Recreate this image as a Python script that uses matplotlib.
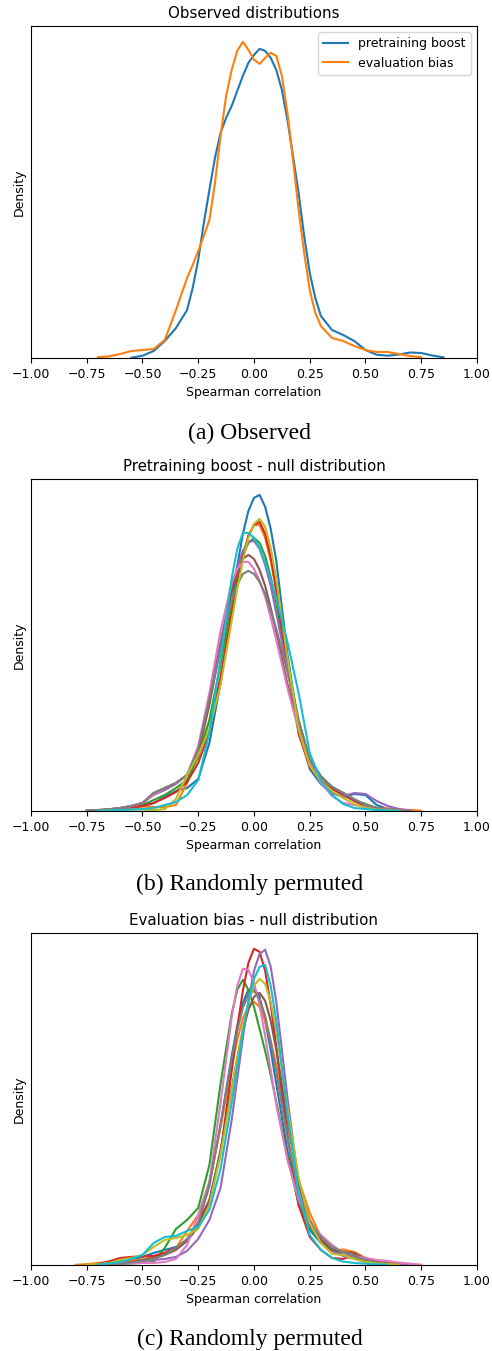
import numpy as np
import matplotlib
matplotlib.use("Agg")
from matplotlib import pyplot as plt

nan = np.nan

# KDE curves of the observed Spearman correlations
obs_x = [-0.75, -0.7, -0.65, -0.6, -0.55, -0.5, -0.45, -0.4, -0.35,
         -0.3, -0.275, -0.25, -0.225, -0.2, -0.175, -0.15, -0.125, -0.1, -0.075, -0.05, -0.025,
         0.0, 0.025, 0.05, 0.075, 0.1, 0.125, 0.15, 0.175, 0.2, 0.225, 0.25, 0.275, 0.3,
         0.35, 0.4, 0.45, 0.5, 0.55, 0.6, 0.65, 0.7, 0.75, 0.8, 0.85, 0.9]
pretraining_boost = [nan, nan, nan, nan, 0.003, 0.023, 0.07, 0.17, 0.30,
                     0.48, 0.70, 0.98, 1.35, 1.68, 2.00, 2.25, 2.40, 2.52, 2.67, 2.82, 2.95,
                     3.03, 3.09, 3.07, 3.00, 2.88, 2.68, 2.38, 2.02, 1.65, 1.22, 0.85, 0.60, 0.42,
                     0.28, 0.23, 0.17, 0.08, 0.033, 0.023, 0.035, 0.055, 0.05, 0.025, 0.006, nan]
evaluation_bias = [nan, 0.007, 0.017, 0.04, 0.07, 0.08, 0.09, 0.18, 0.48,
                   0.80, 0.93, 1.07, 1.22, 1.38, 1.75, 2.22, 2.62, 2.88, 3.07, 3.16, 3.08,
                   2.98, 2.94, 3.00, 3.05, 3.02, 2.82, 2.45, 1.98, 1.48, 1.05, 0.68, 0.45, 0.32,
                   0.20, 0.17, 0.12, 0.08, 0.06, 0.06, 0.04, 0.02, 0.008, nan, nan, nan]

# KDE curves for 10 random permutations of each score
null_x = [-0.8, -0.75, -0.7, -0.65, -0.6, -0.55, -0.5, -0.45, -0.4, -0.35, -0.3, -0.25, -0.2,
          -0.15, -0.1, -0.075, -0.05, -0.025, 0.0, 0.025, 0.05, 0.075, 0.1, 0.15, 0.2,
          0.25, 0.3, 0.35, 0.4, 0.45, 0.5, 0.55, 0.6, 0.65, 0.7, 0.75, 0.8]

boost_null = [
    [nan, nan, 0.003, 0.01, 0.02, 0.03, 0.05, 0.08, 0.14, 0.20, 0.23, 0.32, 0.68, 1.28, 2.05, 2.45, 2.77, 3.00, 3.13,
     3.16, 3.04, 2.82, 2.50, 1.57, 0.83, 0.42, 0.27, 0.18, 0.14, 0.17, 0.16, 0.06, 0.02, 0.007, 0.002, nan, nan],
    [nan, 0.003, 0.008, 0.015, 0.025, 0.035, 0.045, 0.04, 0.04, 0.06, 0.28, 0.60, 0.90, 1.32, 1.98, 2.29, 2.55, 2.75,
     2.86, 2.86, 2.73, 2.50, 2.20, 1.48, 0.84, 0.45, 0.33, 0.24, 0.18, 0.10, 0.05, 0.03, 0.025, 0.015, 0.01, 0.003, nan],
    [nan, 0.002, 0.006, 0.015, 0.025, 0.04, 0.06, 0.11, 0.16, 0.23, 0.31, 0.54, 0.91, 1.47, 2.08, 2.34, 2.55, 2.68,
     2.73, 2.68, 2.55, 2.34, 2.08, 1.47, 0.91, 0.52, 0.35, 0.24, 0.17, 0.11, 0.07, 0.03, 0.015, 0.007, 0.003, nan, nan],
    [nan, nan, 0.005, 0.012, 0.02, 0.035, 0.05, 0.08, 0.13, 0.19, 0.29, 0.48, 0.79, 1.34, 1.97, 2.28, 2.54, 2.75,
     2.86, 2.89, 2.77, 2.54, 2.21, 1.44, 0.77, 0.44, 0.30, 0.22, 0.16, 0.10, 0.05, 0.03, 0.015, 0.008, 0.003, nan, nan],
    [nan, 0.002, 0.006, 0.015, 0.03, 0.05, 0.08, 0.16, 0.21, 0.27, 0.36, 0.60, 1.15, 1.69, 2.23, 2.44, 2.60, 2.69,
     2.70, 2.62, 2.46, 2.25, 1.98, 1.41, 0.88, 0.48, 0.28, 0.18, 0.15, 0.18, 0.17, 0.10, 0.05, 0.02, 0.006, nan, nan],
    [nan, 0.003, 0.01, 0.018, 0.03, 0.05, 0.08, 0.18, 0.23, 0.28, 0.36, 0.58, 1.06, 1.64, 2.19, 2.39, 2.52, 2.56,
     2.52, 2.41, 2.25, 2.03, 1.79, 1.27, 0.82, 0.50, 0.34, 0.24, 0.18, 0.11, 0.06, 0.03, 0.015, 0.007, 0.003, nan, nan],
    [nan, 0.002, 0.006, 0.015, 0.03, 0.05, 0.08, 0.16, 0.23, 0.28, 0.36, 0.65, 1.18, 1.80, 2.28, 2.42, 2.49, 2.49,
     2.42, 2.30, 2.14, 1.93, 1.71, 1.23, 0.81, 0.48, 0.28, 0.15, 0.08, 0.06, 0.04, 0.025, 0.015, 0.007, 0.003, nan, nan],
    [nan, 0.003, 0.01, 0.018, 0.03, 0.05, 0.08, 0.18, 0.23, 0.28, 0.36, 0.62, 1.12, 1.63, 2.10, 2.26, 2.37, 2.40,
     2.37, 2.29, 2.17, 2.00, 1.82, 1.39, 0.90, 0.52, 0.34, 0.24, 0.18, 0.12, 0.06, 0.03, 0.015, 0.007, 0.003, nan, nan],
    [nan, nan, 0.002, 0.005, 0.01, 0.015, 0.015, 0.01, 0.02, 0.12, 0.36, 0.56, 0.82, 1.26, 1.90, 2.22, 2.50, 2.73,
     2.87, 2.92, 2.84, 2.63, 2.32, 1.53, 0.82, 0.45, 0.30, 0.20, 0.13, 0.07, 0.03, 0.015, 0.008, 0.003, nan, nan, nan],
    [nan, nan, 0.002, 0.005, 0.01, 0.015, 0.02, 0.03, 0.06, 0.09, 0.16, 0.31, 0.78, 1.52, 2.33, 2.62, 2.78, 2.78,
     2.73, 2.63, 2.49, 2.32, 2.13, 1.69, 1.18, 0.58, 0.30, 0.16, 0.07, 0.03, 0.02, 0.01, 0.005, 0.002, nan, nan, nan],
]

bias_null = [
    [nan, nan, 0.005, 0.015, 0.03, 0.05, 0.08, 0.12, 0.15, 0.18, 0.25, 0.42, 0.79, 1.40, 2.09, 2.39, 2.62, 2.75,
     2.76, 2.68, 2.44, 2.15, 1.81, 1.14, 0.60, 0.35, 0.22, 0.14, 0.11, 0.08, 0.04, 0.02, 0.01, 0.004, nan, nan, nan],
    [0.001, 0.008, 0.02, 0.03, 0.04, 0.047, 0.053, 0.086, 0.12, 0.17, 0.34, 0.50, 0.83, 1.37, 1.98, 2.25, 2.46, 2.59,
     2.63, 2.58, 2.44, 2.24, 2.00, 1.39, 0.85, 0.52, 0.28, 0.14, 0.155, 0.13, 0.07, 0.04, 0.025, 0.015, 0.005, nan, nan],
    [nan, nan, nan, 0.003, 0.008, 0.015, 0.02, 0.03, 0.17, 0.36, 0.45, 0.57, 1.00, 1.81, 2.51, 2.75, 2.85, 2.75,
     2.58, 2.36, 2.14, 1.90, 1.63, 1.08, 0.62, 0.38, 0.24, 0.16, 0.12, 0.08, 0.05, 0.025, 0.01, 0.004, nan, nan, nan],
    [nan, nan, 0.01, 0.035, 0.07, 0.08, 0.086, 0.09, 0.12, 0.17, 0.24, 0.42, 0.65, 1.12, 1.94, 2.37, 2.74, 3.02,
     3.16, 3.13, 2.94, 2.60, 2.18, 1.29, 0.60, 0.28, 0.15, 0.07, 0.06, 0.10, 0.04, 0.02, 0.01, 0.004, nan, nan, nan],
    [nan, nan, nan, 0.004, 0.012, 0.025, 0.04, 0.05, 0.06, 0.08, 0.14, 0.26, 0.45, 0.77, 1.45, 1.86, 2.27, 2.64,
     2.94, 3.11, 3.15, 2.98, 2.63, 1.67, 0.81, 0.40, 0.25, 0.14, 0.09, 0.06, 0.03, 0.02, 0.01, 0.005, 0.002, nan, nan],
    [nan, nan, nan, 0.005, 0.015, 0.03, 0.05, 0.07, 0.10, 0.15, 0.24, 0.38, 0.64, 1.15, 1.76, 2.07, 2.34, 2.55,
     2.68, 2.72, 2.64, 2.44, 2.15, 1.46, 0.81, 0.45, 0.25, 0.15, 0.13, 0.12, 0.06, 0.03, 0.012, 0.005, nan, nan, nan],
    [nan, nan, 0.002, 0.005, 0.01, 0.015, 0.02, 0.02, 0.03, 0.06, 0.20, 0.50, 0.83, 1.62, 2.48, 2.79, 2.96, 2.95,
     2.82, 2.60, 2.29, 1.95, 1.60, 1.05, 0.65, 0.42, 0.30, 0.20, 0.12, 0.09, 0.07, 0.05, 0.04, 0.023, 0.013, 0.003, nan],
    [nan, nan, nan, 0.004, 0.012, 0.025, 0.04, 0.06, 0.10, 0.17, 0.26, 0.42, 0.81, 1.40, 2.06, 2.34, 2.57, 2.70,
     2.74, 2.66, 2.49, 2.23, 1.93, 1.27, 0.71, 0.42, 0.28, 0.18, 0.13, 0.09, 0.05, 0.025, 0.01, 0.004, nan, nan, nan],
    [nan, 0.002, 0.008, 0.02, 0.05, 0.07, 0.10, 0.18, 0.25, 0.27, 0.30, 0.36, 0.60, 1.10, 1.74, 2.06, 2.37, 2.62,
     2.79, 2.86, 2.81, 2.63, 2.34, 1.57, 0.87, 0.42, 0.22, 0.11, 0.10, 0.06, 0.03, 0.015, 0.007, 0.003, nan, nan, nan],
    [nan, nan, 0.005, 0.015, 0.03, 0.06, 0.10, 0.22, 0.28, 0.29, 0.34, 0.38, 0.55, 0.96, 1.62, 1.98, 2.33, 2.63,
     2.86, 2.98, 3.00, 2.79, 2.44, 1.51, 0.72, 0.30, 0.15, 0.07, 0.033, 0.02, 0.012, 0.006, 0.002, nan, nan, nan, nan],
]

titles = ["Observed distributions",
          "Pretraining boost - null distribution",
          "Evaluation bias - null distribution"]
captions = ["(a) Observed", "(b) Randomly permuted", "(c) Randomly permuted"]

plt.rcParams["font.size"] = 9

fig = plt.figure(figsize=(4.92, 13.51), dpi=100)

# three stacked panels, each with its caption underneath
bottoms = [0.735, 0.3997, 0.0637]
caption_y = [0.6795, 0.3451, 0.0085]
axes = [fig.add_axes([0.063, b, 0.9065, 0.2457]) for b in bottoms]

ax = axes[0]
ax.plot(obs_x, pretraining_boost, label="pretraining boost")
ax.plot(obs_x, evaluation_bias, label="evaluation bias")
ax.legend(loc="upper right")

for run in boost_null:
    axes[1].plot(null_x, run)
for run in bias_null:
    axes[2].plot(null_x, run)

for ax, title, cap, cy in zip(axes, titles, captions, caption_y):
    ax.set_xlim(-1, 1)
    ax.set_ylim(bottom=0)
    ax.set_yticks([])
    ax.set_title(title)
    ax.set_xlabel("Spearman correlation")
    ax.set_ylabel("Density")
    fig.text(0.508, cy, cap, ha="center", va="center",
             family="Liberation Serif", size=17)

fig.savefig("out.png", dpi=100)
